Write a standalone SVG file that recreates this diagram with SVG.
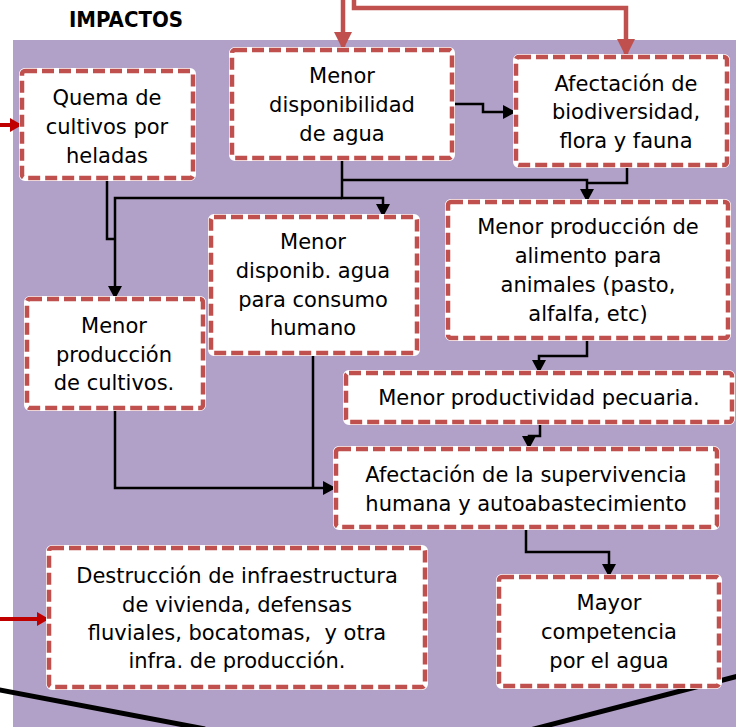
<svg xmlns="http://www.w3.org/2000/svg" width="736" height="727" viewBox="0 0 736 727">
<style>
.bx-under{fill:#ffffff;stroke:#ffffff;stroke-width:6}
.bx{fill:none;stroke:#c0504d;stroke-width:4.5;stroke-dasharray:12 5}
.t{font-family:"DejaVu Sans","Verdana",sans-serif;font-size:21px;fill:#000;text-anchor:middle;white-space:pre}
.c{fill:none;stroke:#000;stroke-width:2.5}
.r{fill:none;stroke:#c0504d;stroke-width:4.5}
.dr{fill:none;stroke:#c00000;stroke-width:4}
</style>
<defs>
<marker id="ab" markerUnits="userSpaceOnUse" markerWidth="13" markerHeight="14" refX="13" refY="7" orient="auto">
<path d="M0,0 L13,7 L0,14 z" fill="#000"/>
</marker>
<marker id="ar" markerUnits="userSpaceOnUse" markerWidth="18" markerHeight="18" refX="18" refY="9" orient="auto">
<path d="M0,0 L18,9 L0,18 z" fill="#c0504d"/>
</marker>
<marker id="adr" markerUnits="userSpaceOnUse" markerWidth="12" markerHeight="14" refX="12" refY="7" orient="auto">
<path d="M0,0 L12,7 L0,14 z" fill="#c00000"/>
</marker>
</defs>
<rect x="0" y="0" width="736" height="727" fill="#ffffff"/>
<rect x="13" y="40" width="723" height="687" fill="#b1a0c7"/>
<text x="126" y="27" style="font-family:'DejaVu Sans Condensed','DejaVu Sans',sans-serif;font-size:22px;font-weight:bold;text-anchor:middle;fill:#000">IMPACTOS</text>
<g id="bottom-lines">
<path d="M-5,689 L205,729" stroke="#000" stroke-width="5" fill="none"/>
<path d="M530,730 L742,675" stroke="#000" stroke-width="5" fill="none"/>
</g>
<g id="connectors">
<path class="r" d="M343,0 V50" marker-end="url(#ar)"/>
<path class="r" d="M354,0 V8 H626 V57" marker-end="url(#ar)"/>
<path class="dr" d="M0,125 H22" marker-end="url(#adr)"/>
<path class="dr" d="M0,619 H49" marker-end="url(#adr)"/>
<path class="c" d="M452,104 H483 V112 H516" marker-end="url(#ab)"/>
<path class="c" d="M342,158 V198 H383 V217" marker-end="url(#ab)"/>
<path class="c" d="M342,198 H115 V299" marker-end="url(#ab)"/>
<path class="c" d="M342,180 H587 V202" marker-end="url(#ab)"/>
<path class="c" d="M627,165 V183 H587"/>
<path class="c" d="M107,178 V239 H115"/>
<path class="c" d="M587,338 V356 H539 V373" marker-end="url(#ab)"/>
<path class="c" d="M540,422 V436 H529 V449" marker-end="url(#ab)"/>
<path class="c" d="M115,408 V488 H336" marker-end="url(#ab)"/>
<path class="c" d="M313,353 V488"/>
<path class="c" d="M526,527 V552 H609 V577" marker-end="url(#ab)"/>
</g>
<g id="quema">
<rect class="bx-under" x="22" y="71" width="171" height="107" rx="3"/>
<rect class="bx" x="22" y="71" width="171" height="107" rx="3"/>
<text class="t" x="107" y="105">Quema de</text>
<text class="t" x="107" y="134">cultivos por</text>
<text class="t" x="107" y="163">heladas</text>
</g>
<g id="disponibilidad">
<rect class="bx-under" x="232" y="50" width="220" height="108" rx="3"/>
<rect class="bx" x="232" y="50" width="220" height="108" rx="3"/>
<text class="t" x="342" y="83">Menor</text>
<text class="t" x="342" y="112">disponibilidad</text>
<text class="t" x="342" y="141">de agua</text>
</g>
<g id="biodiversidad">
<rect class="bx-under" x="516" y="57" width="211" height="108" rx="3"/>
<rect class="bx" x="516" y="57" width="211" height="108" rx="3"/>
<text class="t" x="626" y="91">Afectación de</text>
<text class="t" x="626" y="119">biodiversidad,</text>
<text class="t" x="626" y="148">flora y fauna</text>
</g>
<g id="consumo">
<rect class="bx-under" x="211" y="217" width="206" height="136" rx="3"/>
<rect class="bx" x="211" y="217" width="206" height="136" rx="3"/>
<text class="t" x="313" y="249">Menor</text>
<text class="t" x="313" y="278">disponib. agua</text>
<text class="t" x="313" y="307">para consumo</text>
<text class="t" x="313" y="335">humano</text>
</g>
<g id="cultivos">
<rect class="bx-under" x="27" y="299" width="176" height="109" rx="3"/>
<rect class="bx" x="27" y="299" width="176" height="109" rx="3"/>
<text class="t" x="114" y="333">Menor</text>
<text class="t" x="114" y="362">producción</text>
<text class="t" x="114" y="390">de cultivos.</text>
</g>
<g id="alimento">
<rect class="bx-under" x="448" y="202" width="280" height="136" rx="3"/>
<rect class="bx" x="448" y="202" width="280" height="136" rx="3"/>
<text class="t" x="588" y="234">Menor producción de</text>
<text class="t" x="588" y="263">alimento para</text>
<text class="t" x="588" y="292">animales (pasto,</text>
<text class="t" x="588" y="321">alfalfa, etc)</text>
</g>
<g id="pecuaria">
<rect class="bx-under" x="346" y="373" width="386" height="49" rx="3"/>
<rect class="bx" x="346" y="373" width="386" height="49" rx="3"/>
<text class="t" x="539" y="405">Menor productividad pecuaria.</text>
</g>
<g id="supervivencia">
<rect class="bx-under" x="336" y="449" width="381" height="78" rx="3"/>
<rect class="bx" x="336" y="449" width="381" height="78" rx="3"/>
<text class="t" x="526" y="482">Afectación de la supervivencia</text>
<text class="t" x="526" y="511">humana y autoabastecimiento</text>
</g>
<g id="destruccion">
<rect class="bx-under" x="49" y="548" width="376" height="139" rx="3"/>
<rect class="bx" x="49" y="548" width="376" height="139" rx="3"/>
<text class="t" x="237" y="583">Destrucción de infraestructura</text>
<text class="t" x="237" y="612">de vivienda, defensas</text>
<text class="t" x="237" y="640" xml:space="preserve">fluviales, bocatomas,  y otra</text>
<text class="t" x="237" y="668">infra. de producción.</text>
</g>
<g id="competencia">
<rect class="bx-under" x="499" y="577" width="220" height="109" rx="3"/>
<rect class="bx" x="499" y="577" width="220" height="109" rx="3"/>
<text class="t" x="609" y="610">Mayor</text>
<text class="t" x="609" y="639">competencia</text>
<text class="t" x="609" y="668">por el agua</text>
</g>
</svg>
